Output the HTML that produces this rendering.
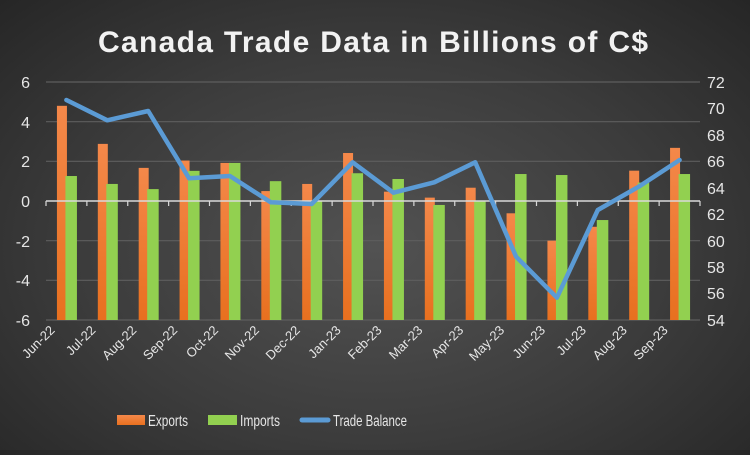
<!DOCTYPE html>
<html><head><meta charset="utf-8"><style>
html,body{margin:0;padding:0;}
body{width:750px;height:450px;overflow:hidden;background:radial-gradient(ellipse at 50% 55%,#525252 0%,#3c3c3c 55%,#262626 100%);font-family:"Liberation Sans",sans-serif;}
</style></head><body>
<svg width="750" height="450" xmlns="http://www.w3.org/2000/svg" font-family="Liberation Sans, sans-serif">
<defs>
<linearGradient id="og" x1="0" y1="0" x2="0" y2="1"><stop offset="0" stop-color="#f4884a"/><stop offset="1" stop-color="#e8701f"/></linearGradient>
</defs>
<text x="373" y="52" text-anchor="middle" font-size="30" font-weight="bold" fill="#f2f2f2" textLength="550" lengthAdjust="spacing">Canada Trade Data in Billions of C$</text>
<g stroke="#5e5e5e" stroke-width="1.2">
<line x1="46" x2="700" y1="82" y2="82"/><line x1="46" x2="700" y1="121.7" y2="121.7"/><line x1="46" x2="700" y1="161.3" y2="161.3"/>
<line x1="46" x2="700" y1="240.7" y2="240.7"/><line x1="46" x2="700" y1="280.3" y2="280.3"/><line x1="46" x2="700" y1="320" y2="320"/>
</g>
<g font-size="16" fill="#e6e6e6" text-anchor="end">
<text x="30" y="88">6</text><text x="30" y="128">4</text><text x="30" y="167">2</text><text x="30" y="207">0</text><text x="30" y="247">-2</text><text x="30" y="286">-4</text><text x="30" y="326">-6</text>
</g>
<g font-size="16" fill="#e6e6e6" text-anchor="start">
<text x="707" y="88">72</text><text x="707" y="114">70</text><text x="707" y="141">68</text><text x="707" y="167">66</text><text x="707" y="194">64</text><text x="707" y="220">62</text><text x="707" y="247">60</text><text x="707" y="273">58</text><text x="707" y="299">56</text><text x="707" y="326">54</text>
</g>
<g id="bars"></g>
<line x1="46" x2="700" y1="201" y2="201" stroke="#d9d9d9" stroke-width="1.5"/>
<g id="ticks" stroke="#d9d9d9" stroke-width="1.2"></g>
<polyline id="tb" fill="none" stroke="#5b9bd5" stroke-width="4.5" stroke-linejoin="round" stroke-linecap="round"/>
<g id="labels" font-size="13" fill="#e6e6e6"></g>
<rect x="117" y="415" width="28" height="10" fill="url(#og)"/>
<text x="148" y="426" font-size="16" fill="#e6e6e6" textLength="40" lengthAdjust="spacingAndGlyphs">Exports</text>
<rect x="208" y="415" width="29" height="10" fill="#92d050"/>
<text x="240" y="426" font-size="16" fill="#e6e6e6" textLength="40" lengthAdjust="spacingAndGlyphs">Imports</text>
<line x1="302" x2="328" y1="420" y2="420" stroke="#5b9bd5" stroke-width="5" stroke-linecap="round"/>
<text x="333" y="426" font-size="16" fill="#e6e6e6" textLength="74" lengthAdjust="spacingAndGlyphs">Trade Balance</text>
</svg>
<script>
var ns="http://www.w3.org/2000/svg";
var cats=["Jun-22","Jul-22","Aug-22","Sep-22","Oct-22","Nov-22","Dec-22","Jan-23","Feb-23","Mar-23","Apr-23","May-23","Jun-23","Jul-23","Aug-23","Sep-23"];
var ex=[4.8,2.88,1.67,2.04,1.92,0.5,0.86,2.42,0.47,0.17,0.67,-0.62,-2.0,-1.3,1.53,2.68];
var im=[1.26,0.86,0.6,1.52,1.92,1.0,0.0,1.4,1.11,-0.2,0,1.36,1.31,-0.96,0.93,1.36];
var tb=[100,120.3,111,178.3,176,202.3,204,162.3,192.7,182.3,162.3,256.7,297.7,210,186.7,160];
var w=654/16,bars=document.getElementById("bars"),lab=document.getElementById("labels"),tk=document.getElementById("ticks"),pts=[];
function y(v){return 201-v*19.83;}
for(var i=0;i<16;i++){
 var c=46+w*(i+0.5);
 var r=document.createElementNS(ns,"rect");r.setAttribute("x",c-9.5);r.setAttribute("width",10);r.setAttribute("y",y(ex[i]));r.setAttribute("height",320-y(ex[i]));r.setAttribute("fill","url(#og)");bars.appendChild(r);
 r=document.createElementNS(ns,"rect");r.setAttribute("x",c-1);r.setAttribute("width",11.5);r.setAttribute("y",y(im[i]));r.setAttribute("height",320-y(im[i]));r.setAttribute("fill","#92d050");bars.appendChild(r);
 pts.push(c.toFixed(1)+","+tb[i]);
 var t=document.createElementNS(ns,"text");t.setAttribute("text-anchor","end");t.setAttribute("transform","translate("+(c-11)+",331) rotate(-45)");t.textContent=cats[i];lab.appendChild(t);
}
for(var i=0;i<=16;i++){var x=46+w*i;var l=document.createElementNS(ns,"line");l.setAttribute("x1",x);l.setAttribute("x2",x);l.setAttribute("y1",201);l.setAttribute("y2",206);tk.appendChild(l);}
document.getElementById("tb").setAttribute("points",pts.join(" "));
</script>
</body></html>
